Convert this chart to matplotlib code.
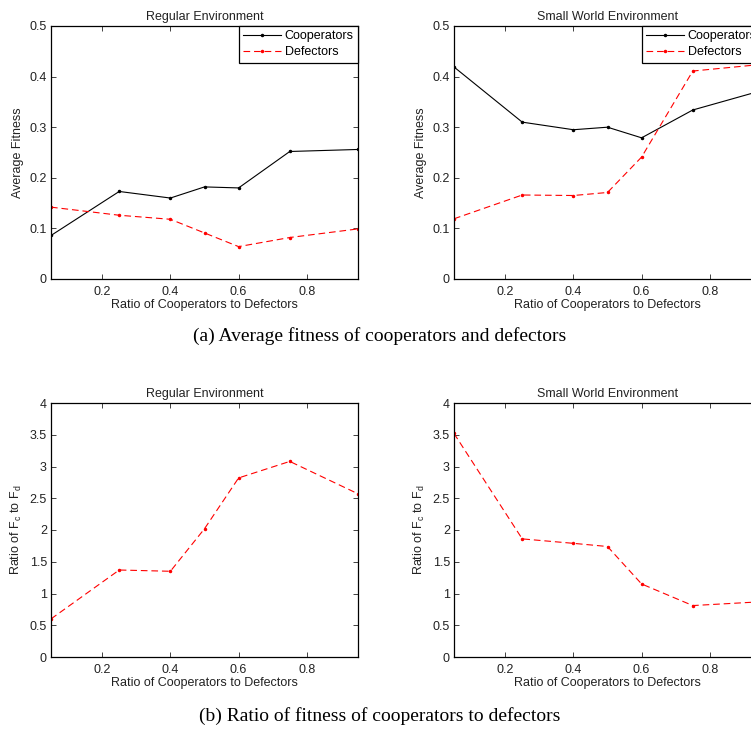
import matplotlib.pyplot as plt

plt.rcParams['font.family'] = ['Liberation Sans', 'DejaVu Sans']
plt.rcParams['mathtext.fontset'] = 'custom'
plt.rcParams['mathtext.rm'] = 'Liberation Sans'

# ratio of cooperators to defectors
ratio = [0.05, 0.25, 0.4, 0.5, 0.6, 0.75, 0.95]

# average fitness, regular environment
reg_coop = [0.086, 0.173, 0.160, 0.182, 0.180, 0.252, 0.256]
reg_defect = [0.142, 0.126, 0.118, 0.091, 0.064, 0.082, 0.099]

# average fitness, small world environment
sw_coop = [0.419, 0.310, 0.295, 0.300, 0.279, 0.334, 0.372]
sw_defect = [0.119, 0.166, 0.165, 0.171, 0.241, 0.411, 0.424]

# ratio Fc / Fd
reg_ratio = [0.60, 1.37, 1.35, 2.02, 2.82, 3.08, 2.57]
sw_ratio = [3.52, 1.86, 1.79, 1.74, 1.15, 0.81, 0.87]

W, H = 751, 729
fig = plt.figure(figsize=(W / 100, H / 100), dpi=100)


def make_axes(left, top, right, bottom):
    # pixel box -> figure fraction
    return fig.add_axes([left / W, 1 - bottom / H, (right - left) / W, (bottom - top) / H])


def style(ax, title, ylabel, ylim, yticks):
    ax.set_xlim(0.05, 0.95)
    ax.set_ylim(*ylim)
    ax.set_xticks([0.2, 0.4, 0.6, 0.8])
    ax.set_xticklabels(['0.2', '0.4', '0.6', '0.8'])
    ax.set_yticks(yticks)
    ax.set_yticklabels(['0' if v == 0 else ('%g' % v) for v in yticks])
    ax.tick_params(direction='in', top=True, right=True, length=3.5, width=0.6,
                   labelsize=9, pad=3, colors='#222222')
    ax.tick_params(axis='x', pad=5)
    for s in ax.spines.values():
        s.set_linewidth(0.9)
    ax.set_title(title, fontsize=9, pad=4, color='#222222')
    ax.set_xlabel('Ratio of Cooperators to Defectors', fontsize=9, labelpad=1, color='#222222')
    ax.set_ylabel(ylabel, fontsize=9, labelpad=4, color='#222222')


dash = (0, (6, 3.5))

tops = [(26, 279), (403, 657)]
lefts = [(51, 358), (454, 761)]

# (a) average fitness
for (l, r), title, coop, defect in [(lefts[0], 'Regular Environment', reg_coop, reg_defect),
                                   (lefts[1], 'Small World Environment', sw_coop, sw_defect)]:
    ax = make_axes(l, tops[0][0], r, tops[0][1])
    ax.plot(ratio, coop, color='black', lw=0.8, marker='.', ms=3, label='Cooperators')
    ax.plot(ratio, defect, color='red', lw=0.8, ls=dash, marker='.', ms=3, label='Defectors')
    style(ax, title, 'Average Fitness', (0, 0.5), [0, 0.1, 0.2, 0.3, 0.4, 0.5])
    leg = ax.legend(loc='upper right', fontsize=9, fancybox=False, framealpha=1,
                    borderaxespad=0.0, handlelength=3.0, handletextpad=0.3,
                    labelspacing=0.3, borderpad=0.35)
    leg.get_frame().set_edgecolor('black')
    leg.get_frame().set_linewidth(0.9)

# (b) ratio of fitness
for (l, r), title, vals in [(lefts[0], 'Regular Environment', reg_ratio),
                            (lefts[1], 'Small World Environment', sw_ratio)]:
    ax = make_axes(l, tops[1][0], r, tops[1][1])
    ax.plot(ratio, vals, color='red', lw=0.8, ls=dash, marker='.', ms=3)
    style(ax, title, r'Ratio of F$_\mathregular{c}$ to F$_\mathregular{d}$', (0, 4),
          [0, 0.5, 1, 1.5, 2, 2.5, 3, 3.5, 4])

fig.text(380 / W, 1 - 336 / H, '(a) Average fitness of cooperators and defectors',
         family='Liberation Serif', fontsize=14, ha='center', va='center')
fig.text(380 / W, 1 - 716 / H, '(b) Ratio of fitness of cooperators to defectors',
         family='Liberation Serif', fontsize=14, ha='center', va='center')

fig.savefig('out.png', dpi=100)
